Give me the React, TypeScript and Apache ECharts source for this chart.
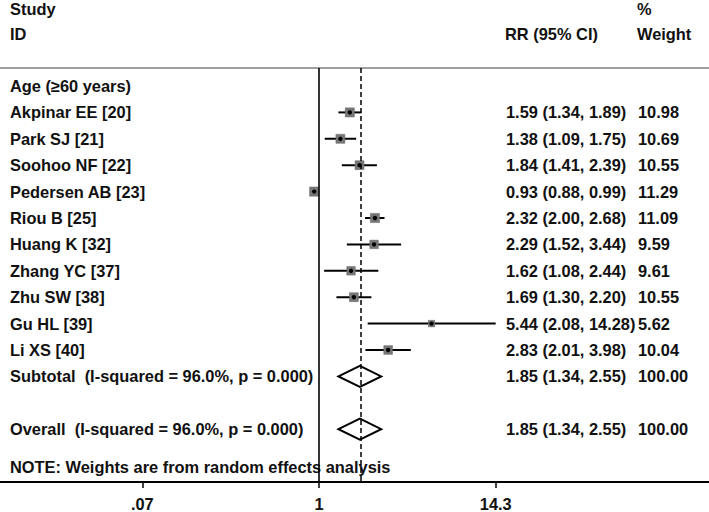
import React, { useEffect, useRef } from "react";
import * as echarts from "echarts";

// ---------- data ----------
const groupLabel = "Age (≥60 years)";
const studies = [
  "Akpinar EE [20]",
  "Park SJ [21]",
  "Soohoo NF [22]",
  "Pedersen AB [23]",
  "Riou B [25]",
  "Huang K [32]",
  "Zhang YC [37]",
  "Zhu SW [38]",
  "Gu HL [39]",
  "Li XS [40]",
];
const rr = [1.59, 1.38, 1.84, 0.93, 2.32, 2.29, 1.62, 1.69, 5.44, 2.83];
const lower = [1.34, 1.09, 1.41, 0.88, 2.0, 1.52, 1.08, 1.3, 2.08, 2.01];
const upper = [1.89, 1.75, 2.39, 0.99, 2.68, 3.44, 2.44, 2.2, 14.28, 3.98];
const weights = [10.98, 10.69, 10.55, 11.29, 11.09, 9.59, 9.61, 10.55, 5.62, 10.04];

const pooledLabels = [
  "Subtotal \u00a0(I-squared = 96.0%, p = 0.000)",
  "Overall \u00a0(I-squared = 96.0%, p = 0.000)",
];
const pooledRR = [1.85, 1.85];
const pooledLower = [1.34, 1.34];
const pooledUpper = [2.55, 2.55];
const pooledWeight = ["100.00", "100.00"];
const pooledRows = [11, 13];
const noteText = "NOTE: Weights are from random effects analysis";
const noteRow = 14.45;

const tickValues = [0.07, 1, 14.3];
const tickLabels = [".07", "1", "14.3"];

const FONT = "'Liberation Sans', Arial, Helvetica, sans-serif";
const FS = 16.4;
const L = (v: number) => Math.log10(v);
const fmt = (v: number) => v.toFixed(2);

export default function App() {
  const ref = useRef<HTMLDivElement>(null);

  useEffect(() => {
    if (!ref.current) return;
    const chart = echarts.init(ref.current, undefined, { renderer: "svg" });

    const textEl = (txt: string, x: number, y: number) => ({
      type: "text",
      x,
      y,
      style: {
        text: txt,
        fontFamily: FONT,
        fontSize: FS,
        fontWeight: "bold",
        fill: "#111",
        textAlign: "left",
        textVerticalAlign: "middle",
        verticalAlign: "middle",
      },
    });

    // text rows: [row, leftText, rrText, weightText]
    const textRows: any[] = [];
    textRows.push([0, groupLabel, "", ""]);
    studies.forEach((s, i) => {
      textRows.push([
        i + 1,
        s,
        `${fmt(rr[i])} (${fmt(lower[i])}, ${fmt(upper[i])})`,
        weights[i].toFixed(2),
      ]);
    });
    pooledLabels.forEach((s, i) => {
      textRows.push([
        pooledRows[i],
        s,
        `${fmt(pooledRR[i])} (${fmt(pooledLower[i])}, ${fmt(pooledUpper[i])})`,
        pooledWeight[i],
      ]);
    });
    textRows.push([noteRow, noteText, "", ""]);

    const studyData = studies.map((_, i) => [
      L(rr[i]),
      i + 1,
      L(lower[i]),
      L(upper[i]),
      weights[i],
    ]);
    const pooledData = pooledRows.map((r, i) => [
      L(pooledRR[i]),
      r,
      L(pooledLower[i]),
      L(pooledUpper[i]),
    ]);

    const xMin = -2.085;
    const xMax = 2.549;

    const option: any = {
      animation: false,
      grid: { left: 0, right: 0, top: 68, bottom: 30, containLabel: false },
      xAxis: [
        {
          type: "value",
          position: "bottom",
          min: xMin,
          max: xMax,
          axisLine: { show: true, onZero: false, lineStyle: { color: "#000", width: 2 } },
          axisTick: {
            show: true,
            customValues: tickValues.map(L),
            length: 6,
            lineStyle: { color: "#000", width: 1.5 },
          },
          axisLabel: {
            show: true,
            customValues: tickValues.map(L),
            margin: 14,
            fontFamily: FONT,
            fontSize: FS,
            fontWeight: "bold",
            color: "#111",
            formatter: (v: number) => {
              let best = 0;
              tickValues.forEach((t, i) => {
                if (Math.abs(L(t) - v) < Math.abs(L(tickValues[best]) - v)) best = i;
              });
              return tickLabels[best];
            },
          },
          splitLine: { show: false },
        },
        {
          type: "value",
          position: "top",
          min: xMin,
          max: xMax,
          axisLine: { show: true, onZero: false, lineStyle: { color: "#a0a0a0", width: 2 } },
          axisTick: { show: false },
          axisLabel: { show: false },
          splitLine: { show: false },
        },
      ],
      yAxis: {
        type: "value",
        min: -0.682,
        max: 15,
        inverse: true,
        show: false,
        splitLine: { show: false },
      },
      graphic: [
        textEl("Study", 10, 9),
        textEl("ID", 10, 34),
        textEl("RR (95% CI)", 505, 34),
        textEl("%", 637, 9),
        textEl("Weight", 637, 34),
      ],
      series: [
        // reference line at 1
        {
          type: "scatter",
          data: [],
          z: 1,
          markLine: {
            silent: true,
            symbol: "none",
            label: { show: false },
            lineStyle: { color: "#000", width: 1.6, type: "solid" },
            data: [{ xAxis: 0 }],
          },
        },
        // CI lines and squares
        {
          type: "custom",
          z: 2,
          data: studyData,
          renderItem: (params: any, api: any) => {
            const c = api.coord([api.value(0), api.value(1)]);
            const lo = api.coord([api.value(2), api.value(1)]);
            const hi = api.coord([api.value(3), api.value(1)]);
            const side = 2.75 * Math.sqrt(api.value(4));
            return {
              type: "group",
              children: [
                {
                  type: "line",
                  shape: { x1: lo[0], y1: lo[1], x2: hi[0], y2: hi[1] },
                  style: { stroke: "#000", lineWidth: 2 },
                },
                {
                  type: "rect",
                  shape: { x: c[0] - side / 2, y: c[1] - side / 2, width: side, height: side },
                  style: { fill: "#777", stroke: "#666", lineWidth: 0.5 },
                },
                {
                  type: "circle",
                  shape: { cx: c[0], cy: c[1], r: 2.2 },
                  style: { fill: "#000" },
                },
              ],
            };
          },
        },
        // diamonds
        {
          type: "custom",
          z: 2,
          data: pooledData,
          renderItem: (params: any, api: any) => {
            const c = api.coord([api.value(0), api.value(1)]);
            const lo = api.coord([api.value(2), api.value(1)]);
            const hi = api.coord([api.value(3), api.value(1)]);
            const h = 10.5;
            return {
              type: "polygon",
              shape: {
                points: [
                  [lo[0], c[1]],
                  [c[0], c[1] - h],
                  [hi[0], c[1]],
                  [c[0], c[1] + h],
                ],
              },
              style: { fill: "none", stroke: "#000", lineWidth: 2 },
            };
          },
        },
        // row texts
        {
          type: "custom",
          z: 2,
          data: textRows.map((r) => [0, r[0]]),
          renderItem: (params: any, api: any) => {
            const row = textRows[params.dataIndex];
            const y = api.coord([0, api.value(1)])[1];
            return {
              type: "group",
              children: [textEl(row[1], 10, y), textEl(row[2], 506, y), textEl(row[3], 638, y)],
            };
          },
        },
        // dashed pooled line (drawn on top)
        {
          type: "scatter",
          data: [],
          z: 5,
          markLine: {
            silent: true,
            symbol: "none",
            label: { show: false },
            lineStyle: { color: "#000", width: 1.5, type: [5, 3] },
            data: [{ xAxis: L(pooledRR[1]) }],
          },
        },
      ],
    };

    chart.setOption(option);
    return () => chart.dispose();
  }, []);

  return (
    <div
      ref={ref}
      style={{ position: "fixed", left: 0, top: 0, width: 709, height: 512, background: "#fff" }}
    />
  );
}
